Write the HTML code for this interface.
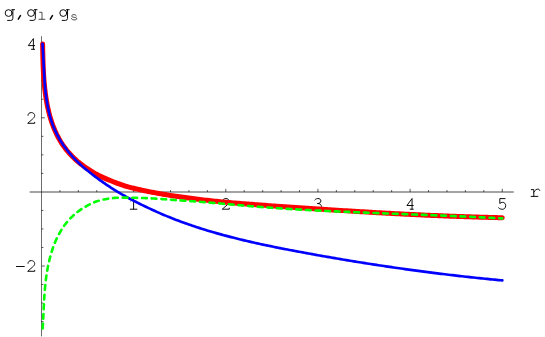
<!DOCTYPE html>
<html><head><meta charset="utf-8"><title>plot</title><style>
html,body{margin:0;padding:0;background:#fff;}
svg{display:block;}
</style></head><body>
<svg width="545" height="337" viewBox="0 0 545 337">
<rect width="545" height="337" fill="#fff"/>
<g stroke="#000" fill="none">
<line x1="29.7" y1="192.0" x2="513.8" y2="192.0" stroke-width="0.72"/>
<line x1="41.5" y1="36.2" x2="41.5" y2="336.4" stroke-width="0.58"/>
</g>
<g stroke="#000" stroke-width="0.65" fill="none">
<line x1="59.93" y1="192.0" x2="59.93" y2="190.10"/><line x1="78.36" y1="192.0" x2="78.36" y2="190.10"/><line x1="96.79" y1="192.0" x2="96.79" y2="190.10"/><line x1="115.22" y1="192.0" x2="115.22" y2="190.10"/><line x1="133.65" y1="192.0" x2="133.65" y2="188.80"/><line x1="152.08" y1="192.0" x2="152.08" y2="190.10"/><line x1="170.51" y1="192.0" x2="170.51" y2="190.10"/><line x1="188.94" y1="192.0" x2="188.94" y2="190.10"/><line x1="207.37" y1="192.0" x2="207.37" y2="190.10"/><line x1="225.80" y1="192.0" x2="225.80" y2="188.80"/><line x1="244.23" y1="192.0" x2="244.23" y2="190.10"/><line x1="262.66" y1="192.0" x2="262.66" y2="190.10"/><line x1="281.09" y1="192.0" x2="281.09" y2="190.10"/><line x1="299.52" y1="192.0" x2="299.52" y2="190.10"/><line x1="317.95" y1="192.0" x2="317.95" y2="188.80"/><line x1="336.38" y1="192.0" x2="336.38" y2="190.10"/><line x1="354.81" y1="192.0" x2="354.81" y2="190.10"/><line x1="373.24" y1="192.0" x2="373.24" y2="190.10"/><line x1="391.67" y1="192.0" x2="391.67" y2="190.10"/><line x1="410.10" y1="192.0" x2="410.10" y2="188.80"/><line x1="428.53" y1="192.0" x2="428.53" y2="190.10"/><line x1="446.96" y1="192.0" x2="446.96" y2="190.10"/><line x1="465.39" y1="192.0" x2="465.39" y2="190.10"/><line x1="483.82" y1="192.0" x2="483.82" y2="190.10"/><line x1="502.25" y1="192.0" x2="502.25" y2="188.80"/><line x1="41.5" y1="321.57" x2="43.40" y2="321.57"/><line x1="41.5" y1="303.05" x2="43.40" y2="303.05"/><line x1="41.5" y1="284.52" x2="43.40" y2="284.52"/><line x1="41.5" y1="266.00" x2="44.80" y2="266.00"/><line x1="41.5" y1="247.47" x2="43.40" y2="247.47"/><line x1="41.5" y1="228.95" x2="43.40" y2="228.95"/><line x1="41.5" y1="210.43" x2="43.40" y2="210.43"/><line x1="41.5" y1="173.38" x2="43.40" y2="173.38"/><line x1="41.5" y1="154.85" x2="43.40" y2="154.85"/><line x1="41.5" y1="136.33" x2="43.40" y2="136.33"/><line x1="41.5" y1="117.80" x2="44.80" y2="117.80"/><line x1="41.5" y1="99.28" x2="43.40" y2="99.28"/><line x1="41.5" y1="80.75" x2="43.40" y2="80.75"/><line x1="41.5" y1="62.23" x2="43.40" y2="62.23"/><line x1="41.5" y1="43.70" x2="44.80" y2="43.70"/>
</g>
<g fill="none" stroke-linecap="round" stroke-linejoin="round">
<path transform="translate(129.70,198.20)" d="M1.1,2.6 L3.9,0.3 L3.9,11 M0.6,11 L7.2,11" stroke-width="0.95" stroke="#000"/><path transform="translate(221.85,198.20)" d="M0.7,3.0 C0.7,1.3 2.1,0.3 4.0,0.3 C5.9,0.3 7.4,1.5 7.4,3.3 C7.4,4.7 6.5,5.6 5.2,6.8 L0.4,11 L7.4,11 L7.4,10" stroke-width="0.95" stroke="#000"/><path transform="translate(314.00,198.20)" d="M0.9,1.7 C1.8,0.7 2.9,0.3 4.0,0.3 C5.7,0.3 6.9,1.3 6.9,2.8 C6.9,4.4 5.6,5.3 3.4,5.3 C5.9,5.3 7.4,6.4 7.4,8.2 C7.4,10 5.9,11.1 3.9,11.1 C2.4,11.1 1.1,10.6 0.2,9.6" stroke-width="0.95" stroke="#000"/><path transform="translate(406.15,198.20)" d="M4.0,11 L7.1,11 M5.9,11 L5.9,0.3 L0.8,7.3 L7.1,7.3" stroke-width="0.95" stroke="#000"/><path transform="translate(498.30,198.20)" d="M6.8,0.4 L1.5,0.4 L1.5,5.3 C2.3,4.5 3.3,4.1 4.2,4.1 C6.1,4.1 7.4,5.5 7.4,7.5 C7.4,9.7 5.9,11.1 3.9,11.1 C2.4,11.1 1.2,10.6 0.3,9.6" stroke-width="0.95" stroke="#000"/><path transform="translate(27.50,38.30)" d="M4.0,11 L7.1,11 M5.9,11 L5.9,0.3 L0.8,7.3 L7.1,7.3" stroke-width="0.95" stroke="#000"/><path transform="translate(27.30,112.30)" d="M0.7,3.0 C0.7,1.3 2.1,0.3 4.0,0.3 C5.9,0.3 7.4,1.5 7.4,3.3 C7.4,4.7 6.5,5.6 5.2,6.8 L0.4,11 L7.4,11 L7.4,10" stroke-width="0.95" stroke="#000"/><path transform="translate(27.30,260.30)" d="M0.7,3.0 C0.7,1.3 2.1,0.3 4.0,0.3 C5.9,0.3 7.4,1.5 7.4,3.3 C7.4,4.7 6.5,5.6 5.2,6.8 L0.4,11 L7.4,11 L7.4,10" stroke-width="0.95" stroke="#000"/><path d="M16.45,266.50 L24.3,266.50" stroke="#000" stroke-width="0.95"/><path d="M531.3,189.6 L533.8,189.6 L533.8,196.4 M531.1,196.4 L537.9,196.4 M533.8,192.2 C535,190 536.6,189.1 537.9,189.1 C539,189.1 539.5,189.6 539.7,190.4" stroke="#000" stroke-width="0.95"/><path d="M12.88,9.70 L12.88,18.45 Q12.88,20.40 10.78,20.40 L7.58,20.40 M11.88,9.70 L14.58,9.70" stroke="#000" stroke-width="0.95"/><ellipse cx="8.63" cy="13.05" rx="3.4699999999999998" ry="3.38" stroke="#000" stroke-width="0.95"/><path d="M35.33,9.70 L35.33,18.45 Q35.33,20.40 33.23,20.40 L30.03,20.40 M34.33,9.70 L37.03,9.70" stroke="#000" stroke-width="0.95"/><ellipse cx="31.08" cy="13.05" rx="3.4699999999999998" ry="3.38" stroke="#000" stroke-width="0.95"/><path d="M67.53,9.70 L67.53,18.45 Q67.53,20.40 65.43,20.40 L62.23,20.40 M66.53,9.70 L69.23,9.70" stroke="#000" stroke-width="0.95"/><ellipse cx="63.28" cy="13.05" rx="3.4699999999999998" ry="3.38" stroke="#000" stroke-width="0.95"/><path d="M20.7,15.1 L18.0,19.6" stroke="#000" stroke-width="1.5" stroke-linecap="butt"/><path d="M52.7,15.1 L50.0,19.6" stroke="#000" stroke-width="1.5" stroke-linecap="butt"/><path d="M39.6,12.3 L42.0,12.3 L42.0,19.3 M39.0,19.3 L44.9,19.3" stroke="#222" stroke-width="0.8"/><path d="M76.3,16.0 C76,15.0 75,14.6 74,14.6 C72.6,14.6 71.7,15.2 71.7,16.0 C71.7,16.9 72.8,17.1 74.1,17.3 C75.6,17.5 76.7,17.8 76.7,18.7 C76.7,19.5 75.6,19.9 74.1,19.9 C72.8,19.9 71.7,19.4 71.4,18.5" stroke="#222" stroke-width="0.8"/>
</g>
<g fill="none" stroke-linecap="round" stroke-linejoin="round">
<path d="M42.60,43.99 L42.63,45.75 L42.67,47.53 L42.70,49.31 L42.74,51.11 L42.78,52.92 L42.82,54.74 L42.87,56.57 L42.91,58.41 L42.97,60.26 L43.03,62.12 L43.09,63.99 L43.16,65.86 L43.24,67.74 L43.33,69.62 L43.42,71.51 L43.52,73.40 L43.64,75.30 L43.76,77.20 L43.90,79.10 L44.05,81.01 L44.21,82.91 L44.38,84.82 L44.57,86.72 L44.77,88.63 L44.99,90.53 L45.22,92.43 L45.47,94.32 L45.74,96.22 L46.02,98.11 L46.33,99.99 L46.65,101.87 L46.99,103.74 L47.35,105.61 L47.74,107.47 L48.15,109.32 L48.58,111.16 L49.03,112.99 L49.50,114.81 L50.01,116.62 L50.53,118.42 L51.08,120.21 L51.66,121.98 L52.27,123.74 L52.90,125.49 L53.56,127.22 L54.26,128.94 L54.98,130.64 L55.73,132.32 L56.51,133.99 L57.33,135.64 L58.18,137.27 L59.06,138.88 L59.97,140.47 L60.92,142.04 L61.91,143.59 L62.93,145.12 L63.99,146.62 L65.08,148.10 L66.21,149.56 L67.38,150.99 L68.58,152.40 L69.81,153.78 L71.08,155.14 L72.38,156.48 L73.71,157.79 L75.07,159.07 L76.45,160.33 L77.86,161.56 L79.30,162.76 L80.77,163.94 L82.26,165.09 L83.77,166.21 L85.30,167.30 L86.86,168.37 L88.44,169.41 L90.03,170.42 L91.65,171.42 L93.28,172.39 L94.92,173.34 L96.58,174.25 L98.26,175.14 L99.95,175.99 L101.65,176.82 L103.36,177.61 L105.08,178.38 L106.82,179.12 L108.56,179.83 L110.31,180.53 L112.07,181.25 L113.84,181.96 L115.62,182.64 L117.40,183.30 L119.19,183.95 L120.99,184.58 L122.79,185.19 L124.60,185.79 L126.40,186.37 L128.22,186.93 L130.03,187.39 L131.85,187.83 L133.67,188.27 L135.49,188.70 L137.32,189.12 L139.14,189.53 L140.96,189.94 L142.79,190.34 L144.62,190.73 L146.44,191.11 L148.27,191.48 L150.10,191.84 L151.94,192.20 L153.77,192.55 L155.60,192.89 L157.44,193.23 L159.27,193.56 L161.11,193.88 L162.95,194.20 L164.79,194.51 L166.62,194.82 L168.46,195.12 L170.31,195.41 L172.15,195.70 L173.99,195.98 L175.84,196.26 L177.68,196.53 L179.53,196.80 L181.37,197.07 L183.22,197.33 L185.07,197.59 L186.92,197.85 L188.77,198.10 L190.62,198.34 L192.47,198.58 L194.32,198.82 L196.17,199.05 L198.02,199.28 L199.88,199.50 L201.73,199.72 L203.59,199.93 L205.44,200.14 L207.30,200.35 L209.16,200.55 L211.01,200.75 L212.87,200.94 L214.73,201.14 L216.59,201.32 L218.45,201.51 L220.31,201.69 L222.17,201.87 L224.03,202.04 L225.89,202.21 L227.75,202.38 L229.61,202.55 L231.48,202.71 L233.34,202.87 L235.20,203.03 L237.07,203.19 L238.93,203.34 L240.79,203.49 L242.66,203.64 L244.52,203.78 L246.39,203.93 L248.25,204.07 L250.12,204.21 L251.98,204.36 L253.85,204.51 L255.71,204.65 L257.58,204.79 L259.45,204.94 L261.31,205.08 L263.18,205.22 L265.04,205.35 L266.91,205.49 L268.78,205.63 L270.64,205.76 L272.51,205.90 L274.38,206.03 L276.24,206.16 L278.11,206.30 L279.98,206.43 L281.84,206.56 L283.71,206.69 L285.58,206.82 L287.44,206.95 L289.31,207.08 L291.18,207.21 L293.04,207.34 L294.91,207.47 L296.77,207.60 L298.64,207.73 L300.51,207.85 L302.37,207.98 L304.24,208.11 L306.11,208.23 L307.97,208.36 L309.84,208.48 L311.70,208.60 L313.57,208.73 L315.44,208.85 L317.30,208.97 L319.17,209.09 L321.03,209.22 L322.90,209.34 L324.77,209.46 L326.63,209.57 L328.50,209.69 L330.36,209.81 L332.23,209.93 L334.10,210.04 L335.96,210.16 L337.83,210.28 L339.69,210.39 L341.56,210.50 L343.43,210.62 L345.29,210.73 L347.16,210.84 L349.03,210.95 L350.89,211.07 L352.76,211.18 L354.62,211.30 L356.49,211.42 L358.36,211.53 L360.22,211.64 L362.09,211.76 L363.96,211.87 L365.82,211.98 L367.69,212.09 L369.56,212.20 L371.42,212.31 L373.29,212.42 L375.16,212.53 L377.02,212.63 L378.89,212.74 L380.76,212.85 L382.62,212.95 L384.49,213.05 L386.36,213.16 L388.22,213.26 L390.09,213.36 L391.96,213.46 L393.82,213.56 L395.69,213.66 L397.56,213.76 L399.43,213.86 L401.29,213.95 L403.16,214.05 L405.03,214.14 L406.90,214.24 L408.76,214.33 L410.63,214.42 L412.50,214.51 L414.37,214.60 L416.24,214.69 L418.10,214.78 L419.97,214.87 L421.84,214.96 L423.71,215.04 L425.58,215.13 L427.44,215.21 L429.31,215.29 L431.18,215.38 L433.05,215.46 L434.92,215.54 L436.79,215.62 L438.66,215.70 L440.53,215.77 L442.40,215.85 L444.26,215.92 L446.13,216.00 L448.00,216.07 L449.87,216.14 L451.74,216.21 L453.61,216.29 L455.48,216.35 L457.35,216.42 L459.22,216.49 L461.09,216.56 L462.96,216.62 L464.83,216.68 L466.70,216.75 L468.57,216.81 L470.45,216.87 L472.32,216.93 L474.19,216.99 L476.06,217.05 L477.93,217.10 L479.80,217.16 L481.67,217.21 L483.54,217.26 L485.42,217.32 L487.29,217.37 L489.16,217.42 L491.03,217.46 L492.90,217.51 L494.78,217.56 L496.65,217.60 L498.52,217.65 L500.40,217.69 L502.27,217.73" stroke="#ff0000" stroke-width="5"/>
<path d="M42.51,43.94 L42.65,45.77 L42.77,47.61 L42.89,49.46 L43.00,51.32 L43.11,53.20 L43.21,55.08 L43.31,56.97 L43.40,58.87 L43.49,60.78 L43.58,62.70 L43.67,64.63 L43.76,66.56 L43.85,68.49 L43.95,70.43 L44.05,72.38 L44.16,74.33 L44.27,76.28 L44.39,78.23 L44.52,80.18 L44.66,82.14 L44.81,84.09 L44.98,86.05 L45.15,88.00 L45.34,89.95 L45.55,91.90 L45.77,93.84 L46.01,95.78 L46.27,97.72 L46.54,99.65 L46.84,101.57 L47.16,103.48 L47.50,105.39 L47.87,107.29 L48.26,109.19 L48.68,111.07 L49.12,112.94 L49.59,114.80 L50.09,116.65 L50.62,118.49 L51.19,120.31 L51.78,122.12 L52.41,123.92 L53.08,125.70 L53.77,127.46 L54.51,129.21 L55.28,130.94 L56.09,132.65 L56.94,134.35 L57.82,136.03 L58.73,137.69 L59.68,139.34 L60.66,140.96 L61.67,142.57 L62.72,144.15 L63.79,145.72 L64.90,147.27 L66.03,148.80 L67.19,150.32 L68.38,151.81 L69.59,153.28 L70.83,154.73 L72.10,156.16 L73.39,157.57 L74.70,158.96 L76.04,160.33 L77.39,161.68 L78.77,163.01 L80.17,164.32 L81.59,165.61 L83.03,166.88 L84.48,168.14 L85.96,169.38 L87.44,170.60 L88.95,171.81 L90.47,173.01 L92.00,174.22 L93.54,175.41 L95.10,176.60 L96.67,177.77 L98.25,178.92 L99.84,180.07 L101.44,181.20 L103.04,182.32 L104.65,183.44 L106.27,184.54 L107.90,185.63 L109.53,186.71 L111.16,187.78 L112.80,188.85 L114.44,189.91 L116.09,190.95 L117.74,191.96 L119.39,192.92 L121.05,193.88 L122.71,194.82 L124.38,195.76 L126.05,196.68 L127.72,197.60 L129.40,198.51 L131.08,199.41 L132.77,200.30 L134.46,201.18 L136.15,202.05 L137.85,202.91 L139.55,203.76 L141.26,204.60 L142.97,205.43 L144.68,206.25 L146.40,207.06 L148.12,207.87 L149.85,208.66 L151.58,209.47 L153.31,210.28 L155.05,211.07 L156.80,211.86 L158.54,212.63 L160.29,213.40 L162.05,214.16 L163.81,214.91 L165.57,215.65 L167.33,216.38 L169.10,217.10 L170.88,217.81 L172.65,218.52 L174.43,219.21 L176.22,219.90 L178.00,220.58 L179.79,221.25 L181.59,221.91 L183.38,222.57 L185.18,223.22 L186.99,223.85 L188.79,224.49 L190.60,225.11 L192.41,225.73 L194.23,226.34 L196.05,226.94 L197.87,227.53 L199.69,228.12 L201.52,228.70 L203.34,229.27 L205.17,229.84 L207.01,230.40 L208.84,230.95 L210.68,231.50 L212.52,232.04 L214.37,232.58 L216.21,233.10 L218.06,233.63 L219.91,234.14 L221.76,234.65 L223.62,235.16 L225.47,235.65 L227.33,236.15 L229.19,236.63 L231.05,237.12 L232.91,237.59 L234.78,238.06 L236.65,238.53 L238.52,238.99 L240.39,239.45 L242.26,239.90 L244.13,240.35 L246.01,240.79 L247.88,241.23 L249.76,241.66 L251.64,242.09 L253.52,242.52 L255.40,242.94 L257.28,243.35 L259.16,243.77 L261.05,244.18 L262.93,244.58 L264.82,244.98 L266.71,245.38 L268.60,245.78 L270.48,246.17 L272.37,246.56 L274.26,246.94 L276.15,247.33 L278.05,247.71 L279.94,248.08 L281.83,248.46 L283.72,248.83 L285.62,249.20 L287.51,249.56 L289.40,249.93 L291.30,250.29 L293.19,250.65 L295.08,251.01 L296.98,251.37 L298.87,251.72 L300.76,252.07 L302.66,252.42 L304.55,252.77 L306.45,253.12 L308.34,253.47 L310.23,253.81 L312.12,254.16 L314.02,254.50 L315.91,254.84 L317.80,255.18 L319.70,255.52 L321.59,255.85 L323.48,256.19 L325.37,256.52 L327.27,256.85 L329.16,257.18 L331.05,257.51 L332.94,257.84 L334.83,258.16 L336.73,258.48 L338.62,258.81 L340.51,259.13 L342.40,259.45 L344.30,259.76 L346.19,260.08 L348.08,260.39 L349.97,260.71 L351.86,261.02 L353.76,261.33 L355.65,261.63 L357.54,261.94 L359.44,262.24 L361.33,262.55 L363.22,262.85 L365.11,263.15 L367.01,263.45 L368.90,263.74 L370.80,264.04 L372.69,264.33 L374.58,264.62 L376.48,264.91 L378.37,265.20 L380.27,265.49 L382.16,265.78 L384.06,266.06 L385.95,266.34 L387.85,266.62 L389.74,266.90 L391.64,267.18 L393.53,267.45 L395.43,267.73 L397.33,268.00 L399.22,268.27 L401.12,268.54 L403.02,268.81 L404.92,269.08 L406.81,269.34 L408.71,269.60 L410.61,269.86 L412.51,270.12 L414.41,270.38 L416.31,270.64 L418.21,270.89 L420.11,271.14 L422.01,271.40 L423.91,271.64 L425.82,271.89 L427.72,272.14 L429.62,272.38 L431.52,272.63 L433.43,272.87 L435.33,273.11 L437.24,273.35 L439.14,273.58 L441.05,273.82 L442.95,274.05 L444.86,274.28 L446.77,274.51 L448.67,274.74 L450.58,274.96 L452.49,275.19 L454.40,275.41 L456.31,275.63 L458.22,275.85 L460.13,276.07 L462.04,276.28 L463.95,276.50 L465.87,276.71 L467.78,276.92 L469.69,277.13 L471.61,277.34 L473.52,277.54 L475.44,277.75 L477.35,277.95 L479.27,278.15 L481.19,278.35 L483.11,278.55 L485.02,278.74 L486.94,278.94 L488.86,279.13 L490.79,279.32 L492.71,279.51 L494.63,279.69 L496.55,279.88 L498.48,280.06 L500.40,280.24 L502.33,280.42" stroke="#0000ff" stroke-width="2.65"/>
<path d="M42.68,328.45 L42.76,327.10 L42.84,325.75 L42.92,324.39 L42.99,323.04 L43.06,321.68 L43.13,320.32 L43.20,318.95 L43.26,317.59 L43.33,316.22 L43.39,314.85 L43.45,313.48 L43.52,312.11 L43.58,310.74 L43.65,309.36 L43.71,307.99 L43.78,306.61 L43.85,305.23 L43.92,303.85 L43.99,302.47 L44.07,301.09 L44.15,299.71 L44.23,298.32 L44.32,296.94 L44.41,295.56 L44.51,294.17 L44.61,292.78 L44.72,291.40 L44.83,290.01 L44.95,288.62 L45.07,287.24 L45.21,285.85 L45.35,284.46 L45.49,283.08 L45.65,281.69 L45.81,280.30 L45.98,278.92 L46.16,277.53 L46.35,276.15 L46.55,274.76 L46.76,273.38 L46.98,271.99 L47.22,270.61 L47.46,269.23 L47.71,267.85 L47.98,266.47 L48.26,265.09 L48.55,263.72 L48.85,262.34 L49.17,260.97 L49.50,259.59 L49.84,258.22 L50.20,256.85 L50.57,255.49 L50.96,254.12 L51.36,252.76 L51.78,251.41 L52.22,250.06 L52.67,248.72 L53.13,247.38 L53.62,246.05 L54.12,244.73 L54.64,243.41 L55.17,242.11 L55.72,240.81 L56.29,239.52 L56.88,238.25 L57.49,236.98 L58.12,235.73 L58.77,234.49 L59.43,233.26 L60.12,232.05 L60.82,230.85 L61.55,229.67 L62.30,228.50 L63.07,227.34 L63.86,226.21 L64.67,225.09 L65.50,223.99 L66.36,222.90 L67.23,221.84 L68.13,220.79 L69.05,219.77 L69.99,218.76 L70.94,217.77 L71.92,216.81 L72.92,215.87 L73.93,214.94 L74.96,214.04 L76.01,213.17 L77.08,212.31 L78.16,211.48 L79.26,210.67 L80.38,209.89 L81.51,209.13 L82.65,208.39 L83.81,207.68 L84.99,207.00 L86.18,206.29 L87.38,205.61 L88.59,204.95 L89.82,204.32 L91.05,203.72 L92.30,203.14 L93.56,202.59 L94.83,202.08 L96.12,201.59 L97.41,201.12 L98.71,200.72 L100.02,200.35 L101.33,200.02 L102.66,199.71 L103.99,199.42 L105.33,199.16 L106.68,198.92 L108.04,198.70 L109.40,198.50 L110.76,198.32 L112.14,198.16 L113.51,198.02 L114.90,197.89 L116.28,197.81 L117.67,197.75 L119.07,197.71 L120.46,197.67 L121.86,197.65 L123.27,197.64 L124.67,197.64 L126.08,197.64 L127.48,197.66 L128.89,197.68 L130.30,197.71 L131.71,197.74 L133.12,197.77 L134.53,197.79 L135.93,197.82 L137.34,197.85 L138.75,197.88 L140.15,197.91 L141.56,197.94 L142.96,197.98 L144.36,198.02 L145.77,198.08 L147.17,198.15 L148.57,198.23 L149.97,198.31 L151.37,198.39 L152.77,198.47 L154.17,198.56 L155.57,198.65 L156.97,198.74 L158.36,198.83 L159.76,198.92 L161.16,199.02 L162.55,199.12 L163.95,199.22 L165.34,199.32 L166.74,199.43 L168.13,199.53 L169.52,199.64 L170.92,199.75 L172.31,199.86 L173.70,199.96 L175.09,200.04 L176.48,200.13 L177.87,200.22 L179.26,200.31 L180.65,200.40 L182.04,200.49 L183.43,200.59 L184.82,200.68 L186.21,200.78 L187.59,200.88 L188.98,200.98 L190.37,201.08 L191.75,201.18 L193.14,201.28 L194.53,201.39 L195.91,201.50 L197.30,201.60 L198.68,201.71 L200.07,201.82 L201.45,201.93 L202.84,202.04 L204.22,202.15 L205.60,202.27 L206.99,202.38 L208.37,202.49 L209.75,202.61 L211.14,202.73 L212.52,202.84 L213.90,202.96 L215.28,203.08 L216.66,203.20 L218.05,203.32 L219.43,203.44 L220.81,203.56 L222.19,203.68 L223.57,203.80 L224.95,203.92 L226.33,204.04 L227.71,204.16 L229.10,204.29 L230.48,204.41 L231.86,204.53 L233.24,204.66 L234.62,204.78 L236.00,204.90 L237.38,205.02 L238.76,205.15 L240.14,205.27 L241.52,205.39 L242.90,205.52 L244.28,205.64 L245.66,205.76 L247.04,205.89 L248.42,206.01 L249.80,206.13 L251.18,206.24 L252.56,206.35 L253.94,206.46 L255.32,206.56 L256.70,206.67 L258.08,206.78 L259.46,206.88 L260.84,206.99 L262.22,207.09 L263.60,207.20 L264.98,207.30 L266.36,207.40 L267.75,207.51 L269.13,207.61 L270.51,207.71 L271.89,207.81 L273.27,207.90 L274.65,208.00 L276.04,208.10 L277.42,208.19 L278.80,208.29 L280.18,208.38 L281.57,208.47 L282.95,208.56 L284.33,208.65 L285.72,208.74 L287.10,208.83 L288.48,208.92 L289.87,209.00 L291.25,209.09 L292.64,209.17 L294.02,209.26 L295.41,209.34 L296.79,209.42 L298.18,209.50 L299.56,209.58 L300.95,209.66 L302.33,209.74 L303.72,209.81 L305.11,209.89 L306.49,209.96 L307.88,210.04 L309.27,210.11 L310.65,210.18 L312.04,210.26 L313.43,210.33 L314.81,210.40 L316.20,210.47 L317.59,210.54 L318.98,210.60 L320.36,210.67 L321.75,210.74 L323.14,210.80 L324.53,210.87 L325.91,210.93 L327.30,211.00 L328.69,211.06 L330.08,211.12 L331.47,211.18 L332.86,211.24 L334.25,211.30 L335.63,211.36 L337.02,211.42 L338.41,211.48 L339.80,211.54 L341.19,211.60 L342.58,211.66 L343.97,211.71 L345.36,211.77 L346.75,211.82 L348.14,211.88 L349.53,211.93 L350.92,211.99 L352.31,212.05 L353.70,212.12 L355.09,212.18 L356.48,212.24 L357.87,212.30 L359.26,212.36 L360.65,212.42 L362.04,212.47 L363.43,212.53 L364.82,212.59 L366.21,212.65 L367.60,212.71 L368.99,212.76 L370.38,212.82 L371.77,212.88 L373.16,212.93 L374.55,212.99 L375.94,213.04 L377.33,213.10 L378.72,213.15 L380.11,213.21 L381.50,213.26 L382.89,213.32 L384.28,213.37 L385.67,213.43 L387.06,213.48 L388.46,213.53 L389.85,213.59 L391.24,213.64 L392.63,213.69 L394.02,213.75 L395.41,213.80 L396.80,213.85 L398.19,213.91 L399.58,213.96 L400.97,214.01 L402.36,214.06 L403.75,214.12 L405.14,214.17 L406.53,214.22 L407.92,214.27 L409.31,214.32 L410.70,214.38 L412.09,214.43 L413.48,214.48 L414.87,214.53 L416.26,214.59 L417.65,214.64 L419.04,214.69 L420.43,214.74 L421.82,214.80 L423.21,214.85 L424.60,214.90 L425.99,214.96 L427.38,215.01 L428.77,215.06 L430.15,215.12 L431.54,215.17 L432.93,215.23 L434.32,215.28 L435.71,215.33 L437.10,215.39 L438.49,215.44 L439.88,215.50 L441.26,215.55 L442.65,215.61 L444.04,215.67 L445.43,215.72 L446.82,215.78 L448.20,215.84 L449.59,215.89 L450.98,215.95 L452.37,216.01 L453.75,216.07 L455.14,216.13 L456.53,216.18 L457.91,216.24 L459.30,216.30 L460.69,216.36 L462.07,216.42 L463.46,216.49 L464.84,216.55 L466.23,216.61 L467.62,216.67 L469.00,216.74 L470.39,216.80 L471.77,216.86 L473.16,216.93 L474.54,216.99 L475.93,217.06 L477.31,217.12 L478.69,217.19 L480.08,217.26 L481.46,217.33 L482.85,217.40 L484.23,217.46 L485.61,217.53 L487.00,217.60 L488.38,217.68 L489.76,217.75 L491.14,217.82 L492.53,217.89 L493.91,217.97 L495.29,218.04 L496.67,218.12 L498.05,218.19 L499.43,218.27 L500.82,218.35 L502.20,218.42" stroke="#00ff00" stroke-width="2.6" stroke-dasharray="4.8 4.868"/>
</g>
</svg>
</body></html>
